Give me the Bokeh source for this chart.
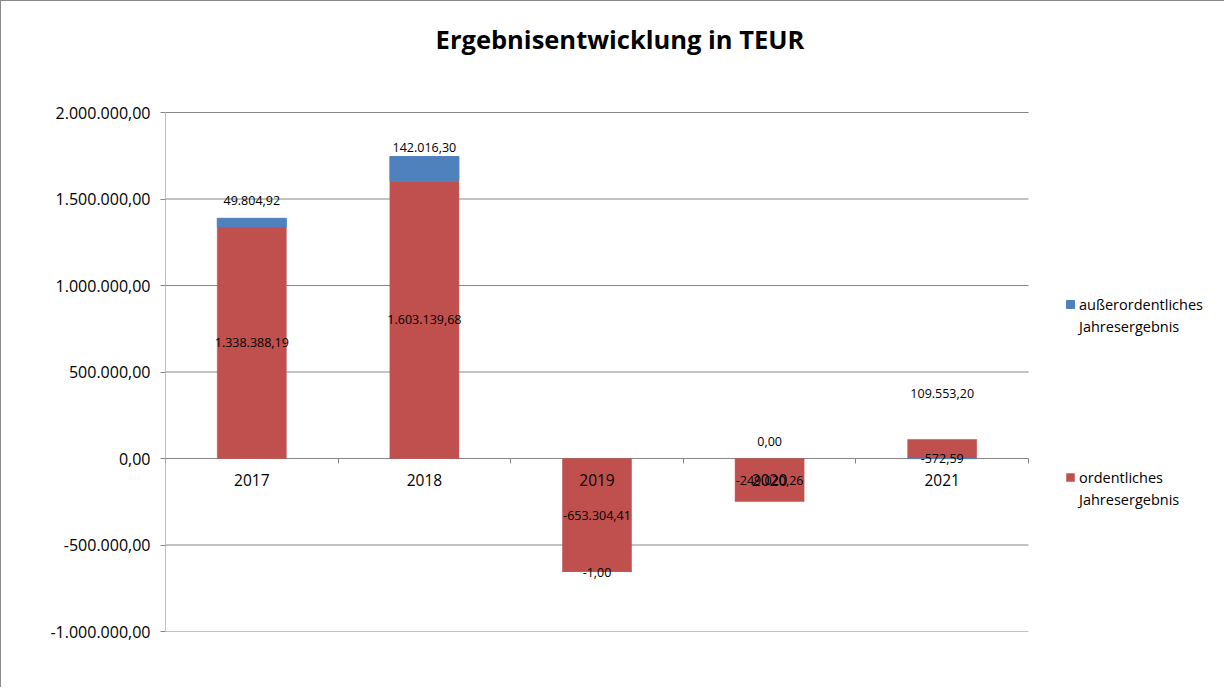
from bokeh.plotting import figure
from bokeh.models import Range1d, FixedTicker, Legend, LegendItem, ColumnDataSource, Label
from bokeh.core.properties import value
from bokeh.embed import file_html
from bokeh.resources import INLINE

# ---------------- data ----------------
years = ["2017", "2018", "2019", "2020", "2021"]
ordentlich = [1338388.19, 1603139.68, -653304.41, -249020.26, 109553.20]
ausserordentlich = [49804.92, 142016.30, -1.00, 0.00, -572.59]
y_ticks = [-1000000, -500000, 0, 500000, 1000000, 1500000, 2000000]
title_text = "Ergebnisentwicklung in TEUR"
series_aus = ["außerordentliches", "Jahresergebnis"]
series_ord = ["ordentliches", "Jahresergebnis"]

# hand-placed label shifts (pixels, negative = up) as in the original chart
ord_label_shift = [0, 0, 0, 0, -56]
aus_label_shift = [-22, -21, 1, -17, 0]

RED = "#C0504D"
BLUE = "#4F81BD"
GRID = "#868686"
FONT = "Open Sans"

# ---------------- layout (pixels) ----------------
W, H = 1224, 687
LEFT, RIGHT, BOTTOM = 164, 10, 57
PLOT_W_PX = 863          # width used by the five categories
PLOT_H_PX = 519          # height of the value range
TOP_PAD_PX = 111         # room above the value range (title area)


def de(v):
    s = f"{v:,.2f}"
    return s.replace(",", "X").replace(".", ",").replace("X", ".")


x = list(range(1, len(years) + 1))
x_lo, x_hi = x[0] - 0.5, x[-1] + 0.5
frame_w = W - LEFT - RIGHT
x_end = x_lo + (x_hi - x_lo) * frame_w / PLOT_W_PX
upp = (y_ticks[-1] - y_ticks[0]) / PLOT_H_PX
y_end = y_ticks[-1] + TOP_PAD_PX * upp

# sign-aware stacking (as a spreadsheet stacked column chart does)
ord_bottom = [0.0] * len(years)
ord_top = list(ordentlich)
pos_base = [max(v, 0) for v in ordentlich]
neg_base = [min(v, 0) for v in ordentlich]
aus_bottom = [pos_base[i] if a >= 0 else neg_base[i] for i, a in enumerate(ausserordentlich)]
aus_top = [b + a for b, a in zip(aus_bottom, ausserordentlich)]

src_ord = ColumnDataSource(dict(
    x=x, bottom=ord_bottom, top=ord_top,
    ly=[(b + t) / 2 for b, t in zip(ord_bottom, ord_top)],
    txt=[de(v) for v in ordentlich], off=ord_label_shift,
    la=[1.0 if v != 0 else 0.0 for v in ordentlich]))
src_aus = ColumnDataSource(dict(
    x=x, bottom=aus_bottom, top=aus_top,
    ly=[(b + t) / 2 for b, t in zip(aus_bottom, aus_top)],
    txt=[de(v) for v in ausserordentlich], off=aus_label_shift,
    la=[1.0 if v != 0 else 0.0 for v in ausserordentlich]))

p = figure(width=W, height=H,
           x_range=Range1d(x_lo, x_end),
           y_range=Range1d(y_ticks[0], y_end),
           output_backend="svg", toolbar_location=None,
           min_border_left=LEFT, min_border_right=RIGHT,
           min_border_top=0, min_border_bottom=BOTTOM)

p.outline_line_color = None
p.background_fill_color = "white"
p.border_fill_color = "white"
p.xgrid.visible = False
p.ygrid.visible = False

# gridlines and value axis line, limited to the plot region
p.segment(x0=[x_lo] * len(y_ticks), x1=[x_hi] * len(y_ticks), y0=y_ticks, y1=y_ticks,
          line_color=GRID, line_width=1)
p.segment(x0=[x_lo], x1=[x_lo], y0=[y_ticks[0]], y1=[y_ticks[-1]],
          line_color=GRID, line_width=1)

# y axis
p.yaxis.ticker = FixedTicker(ticks=y_ticks, minor_ticks=[])
p.yaxis.major_label_overrides = {t: de(t) for t in y_ticks}
p.yaxis.axis_line_color = None
p.yaxis.major_tick_line_color = GRID
p.yaxis.major_tick_out = 5
p.yaxis.major_tick_in = 0
p.yaxis.minor_tick_out = 0
p.yaxis.major_label_standoff = 10
p.yaxis.major_label_text_font = FONT
p.yaxis.major_label_text_font_size = "16px"
p.yaxis.major_label_text_color = "#000000"

# x axis at zero
p.xaxis.fixed_location = 0
p.xaxis.ticker = FixedTicker(ticks=x, minor_ticks=[i + 0.5 for i in range(len(years) + 1)])
p.xaxis.major_label_overrides = {i: y for i, y in zip(x, years)}
p.xaxis.axis_line_color = None
p.xaxis.major_tick_out = 0
p.xaxis.major_tick_in = 0
p.xaxis.minor_tick_out = 5
p.xaxis.minor_tick_in = 0
p.xaxis.minor_tick_line_color = GRID
p.xaxis.major_label_standoff = 10
p.xaxis.major_label_text_font = FONT
p.xaxis.major_label_text_font_size = "15.5px"
p.xaxis.major_label_text_color = "#000000"

r_ord = p.vbar(x="x", bottom="bottom", top="top", width=0.4, source=src_ord,
               fill_color=RED, line_color=RED, line_alpha="la", line_width=0.5)
r_aus = p.vbar(x="x", bottom="bottom", top="top", width=0.4, source=src_aus,
               fill_color=BLUE, line_color=BLUE, line_alpha="la", line_width=1)
# invisible renderer used only for the second legend line
r_blank = p.vbar(x=[], top=[], width=0.4, fill_alpha=0, line_alpha=0)

for src in (src_ord, src_aus):
    p.text(x="x", y="ly", text="txt", y_offset="off", source=src,
           text_align="center", text_baseline="middle",
           text_font=value(FONT), text_font_size="12.5px", text_color="#000000")

# title
p.add_layout(Label(x=(x[0] + x[-1]) / 2, y=y_ticks[-1], x_offset=23, y_offset=74,
                   text=title_text, text_align="center", text_baseline="middle",
                   text_font=FONT, text_font_size="25.5px", text_font_style="bold",
                   text_color="#000000"))


def make_legend(renderer, labels, loc):
    lg = Legend(items=[LegendItem(label=labels[0], renderers=[renderer]),
                       LegendItem(label=labels[1], renderers=[r_blank])],
                location=loc)
    lg.border_line_color = None
    lg.background_fill_alpha = 0
    lg.glyph_width = 10
    lg.glyph_height = 10
    lg.label_standoff = 4
    lg.label_text_font = FONT
    lg.label_text_font_size = "14.5px"
    lg.label_text_color = "#000000"
    lg.label_height = 22
    lg.spacing = 0
    lg.padding = 0
    lg.margin = 0
    return lg


p.add_layout(make_legend(r_aus, series_aus, (900, 294)))
p.add_layout(make_legend(r_ord, series_ord, (900, 121)))

p.styles = {"border-left": "1px solid #8a8a8a", "border-top": "1px solid #8a8a8a"}

open("out.html", "w").write(file_html(p, INLINE))
